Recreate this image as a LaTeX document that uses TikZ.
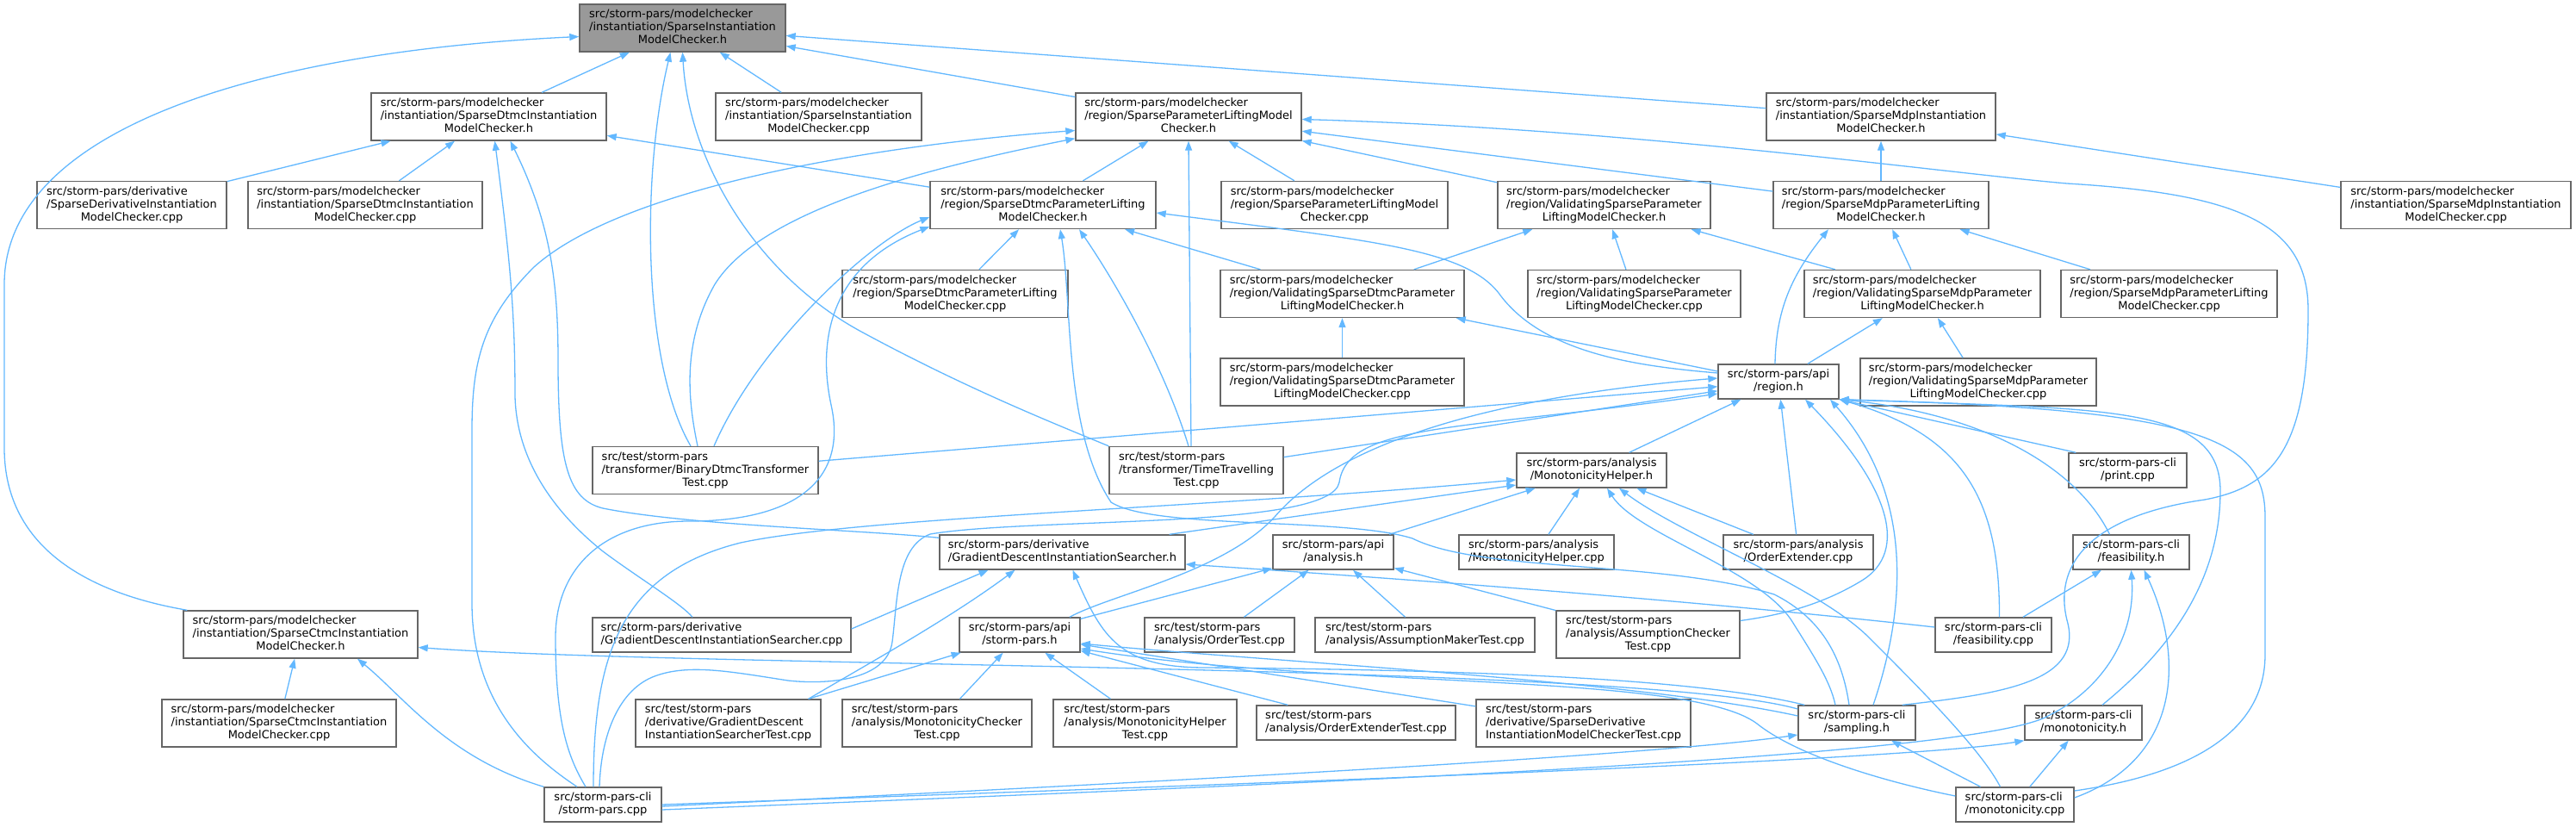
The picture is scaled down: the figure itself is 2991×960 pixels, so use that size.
\documentclass[tikz,border=0pt]{standalone}
\usepackage{fontspec}
\setmainfont{DejaVu Sans}
\usepackage{tikz}
\usetikzlibrary{arrows.meta}
\definecolor{EdgeBlue}{RGB}{99,184,255}
\definecolor{BoxGray}{RGB}{102,102,102}
\definecolor{RootGray}{RGB}{153,153,153}
\newcommand{\fthree}[3]{\begin{tabular}{@{}l@{}}#1\\#2\\\multicolumn{1}{@{}c@{}}{#3}\end{tabular}}
\newcommand{\ftwo}[2]{\begin{tabular}{@{}l@{}}#1\\\multicolumn{1}{@{}c@{}}{#2}\end{tabular}}
\tikzset{
  filebox/.style={draw=BoxGray,fill=white,line width=1.4pt,inner sep=0pt,
    font=\fontsize{13}{15}\selectfont},
  box3/.style={filebox,minimum height=55pt},
  box2/.style={filebox,minimum height=40pt},
  rootbox/.style={box3,fill=RootGray},
  dep/.style={draw=EdgeBlue,line width=1.3pt,{Triangle[length=11pt,width=8pt]}-}
}
\begin{document}
\begin{tikzpicture}[x=1pt,y=-1pt]
  \useasboundingbox (0,0) rectangle (2991,960);
  % row 1 and 2
  \node[rootbox,minimum width=239pt] (root) at (792.5,32.5) {\fthree{src/storm-pars/modelchecker}{/instantiation/SparseInstantiation}{ModelChecker.h}};
  \node[box3,minimum width=273pt] (dtmcInstH) at (567.5,135.5) {\fthree{src/storm-pars/modelchecker}{/instantiation/SparseDtmcInstantiation}{ModelChecker.h}};
  \node[box3,minimum width=239pt] (instCpp) at (950.5,135.5) {\fthree{src/storm-pars/modelchecker}{/instantiation/SparseInstantiation}{ModelChecker.cpp}};
  \node[box3,minimum width=262pt] (splmcH) at (1380,135.5) {\fthree{src/storm-pars/modelchecker}{/region/SparseParameterLiftingModel}{Checker.h}};
  \node[box3,minimum width=266pt] (mdpInstH) at (2184,135.5) {\fthree{src/storm-pars/modelchecker}{/instantiation/SparseMdpInstantiation}{ModelChecker.h}};
  % row 3
  \node[box3,minimum width=220pt] (derivCpp) at (153,238) {\fthree{src/storm-pars/derivative}{/SparseDerivativeInstantiation}{ModelChecker.cpp}};
  \node[box3,minimum width=272pt] (dtmcInstCpp) at (424,238) {\fthree{src/storm-pars/modelchecker}{/instantiation/SparseDtmcInstantiation}{ModelChecker.cpp}};
  \node[box3,minimum width=262pt] (dtmcPLH) at (1211,238) {\fthree{src/storm-pars/modelchecker}{/region/SparseDtmcParameterLifting}{ModelChecker.h}};
  \node[box3,minimum width=263pt] (splmcCpp) at (1549.5,238) {\fthree{src/storm-pars/modelchecker}{/region/SparseParameterLiftingModel}{Checker.cpp}};
  \node[box3,minimum width=247pt] (valSplH) at (1862.5,238) {\fthree{src/storm-pars/modelchecker}{/region/ValidatingSparseParameter}{LiftingModelChecker.h}};
  \node[box3,minimum width=250pt] (mdpPLH) at (2184,238) {\fthree{src/storm-pars/modelchecker}{/region/SparseMdpParameterLifting}{ModelChecker.h}};
  \node[box3,minimum width=267pt] (mdpInstCpp) at (2851.5,238) {\fthree{src/storm-pars/modelchecker}{/instantiation/SparseMdpInstantiation}{ModelChecker.cpp}};
  % row 4
  \node[box3,minimum width=262pt] (dtmcPLCpp) at (1109,341) {\fthree{src/storm-pars/modelchecker}{/region/SparseDtmcParameterLifting}{ModelChecker.cpp}};
  \node[box3,minimum width=283pt] (valDtmcH) at (1558.5,341) {\fthree{src/storm-pars/modelchecker}{/region/ValidatingSparseDtmcParameter}{LiftingModelChecker.h}};
  \node[box3,minimum width=247pt] (valSplCpp) at (1897.5,341) {\fthree{src/storm-pars/modelchecker}{/region/ValidatingSparseParameter}{LiftingModelChecker.cpp}};
  \node[box3,minimum width=274pt] (valMdpH) at (2232,341) {\fthree{src/storm-pars/modelchecker}{/region/ValidatingSparseMdpParameter}{LiftingModelChecker.h}};
  \node[box3,minimum width=251pt] (mdpPLCpp) at (2518.5,341) {\fthree{src/storm-pars/modelchecker}{/region/SparseMdpParameterLifting}{ModelChecker.cpp}};
  % row 5
  \node[box3,minimum width=283pt] (valDtmcCpp) at (1558.5,443.5) {\fthree{src/storm-pars/modelchecker}{/region/ValidatingSparseDtmcParameter}{LiftingModelChecker.cpp}};
  \node[box2,minimum width=140pt] (regionH) at (2065,443) {\ftwo{src/storm-pars/api}{/region.h}};
  \node[box3,minimum width=274pt] (valMdpCpp) at (2297,443.5) {\fthree{src/storm-pars/modelchecker}{/region/ValidatingSparseMdpParameter}{LiftingModelChecker.cpp}};
  % row 6
  \node[box3,minimum width=262pt] (binTest) at (819,546) {\fthree{src/test/storm-pars}{/transformer/BinaryDtmcTransformer}{Test.cpp}};
  \node[box3,minimum width=202pt] (timeTest) at (1389,546) {\fthree{src/test/storm-pars}{/transformer/TimeTravelling}{Test.cpp}};
  \node[box2,minimum width=174pt] (monoHelperH) at (1848,546) {\ftwo{src/storm-pars/analysis}{/MonotonicityHelper.h}};
  \node[box2,minimum width=137pt] (printCpp) at (2470.5,546) {\ftwo{src/storm-pars-cli}{/print.cpp}};
  % row 7
  \node[box2,minimum width=285pt] (gdSearcherH) at (1233.5,641) {\ftwo{src/storm-pars/derivative}{/GradientDescentInstantiationSearcher.h}};
  \node[box2,minimum width=140pt] (analysisH) at (1548,641) {\ftwo{src/storm-pars/api}{/analysis.h}};
  \node[box2,minimum width=180pt] (monoHelperCpp) at (1784,641) {\ftwo{src/storm-pars/analysis}{/MonotonicityHelper.cpp}};
  \node[box2,minimum width=174pt] (orderExtCpp) at (2088,641) {\ftwo{src/storm-pars/analysis}{/OrderExtender.cpp}};
  \node[box2,minimum width=135pt] (feasH) at (2474.5,641) {\ftwo{src/storm-pars-cli}{/feasibility.h}};
  % row 8
  \node[box3,minimum width=272pt] (ctmcInstH) at (349,736.5) {\fthree{src/storm-pars/modelchecker}{/instantiation/SparseCtmcInstantiation}{ModelChecker.h}};
  \node[box2,minimum width=300pt] (gdSearcherCpp) at (838,737) {\ftwo{src/storm-pars/derivative}{/GradientDescentInstantiationSearcher.cpp}};
  \node[box2,minimum width=140pt] (stormParsH) at (1184,737) {\ftwo{src/storm-pars/api}{/storm-pars.h}};
  \node[box2,minimum width=174pt] (orderTest) at (1416,737) {\ftwo{src/test/storm-pars}{/analysis/OrderTest.cpp}};
  \node[box2,minimum width=255pt] (assumMakerTest) at (1654.5,737) {\ftwo{src/test/storm-pars}{/analysis/AssumptionMakerTest.cpp}};
  \node[box3,minimum width=213pt] (assumCheckerTest) at (1913.5,736.5) {\fthree{src/test/storm-pars}{/analysis/AssumptionChecker}{Test.cpp}};
  \node[box2,minimum width=135pt] (feasCpp) at (2314.5,737) {\ftwo{src/storm-pars-cli}{/feasibility.cpp}};
  % row 9
  \node[box3,minimum width=272pt] (ctmcInstCpp) at (324,839.5) {\fthree{src/storm-pars/modelchecker}{/instantiation/SparseCtmcInstantiation}{ModelChecker.cpp}};
  \node[box3,minimum width=215pt] (gdTest) at (845.5,839.5) {\fthree{src/test/storm-pars}{/derivative/GradientDescent}{InstantiationSearcherTest.cpp}};
  \node[box3,minimum width=220pt] (monoCheckerTest) at (1088,839.5) {\fthree{src/test/storm-pars}{/analysis/MonotonicityChecker}{Test.cpp}};
  \node[box3,minimum width=213pt] (monoHelperTest) at (1329.5,839.5) {\fthree{src/test/storm-pars}{/analysis/MonotonicityHelper}{Test.cpp}};
  \node[box2,minimum width=231pt] (orderExtTest) at (1574.5,839) {\ftwo{src/test/storm-pars}{/analysis/OrderExtenderTest.cpp}};
  \node[box3,minimum width=249pt] (sparseDerivTest) at (1838.5,839.5) {\fthree{src/test/storm-pars}{/derivative/SparseDerivative}{InstantiationModelCheckerTest.cpp}};
  \node[box2,minimum width=136pt] (samplingH) at (2156,839) {\ftwo{src/storm-pars-cli}{/sampling.h}};
  \node[box2,minimum width=136pt] (monoH) at (2419,839) {\ftwo{src/storm-pars-cli}{/monotonicity.h}};
  % row 10
  \node[box2,minimum width=136pt] (stormParsCpp) at (700,934) {\ftwo{src/storm-pars-cli}{/storm-pars.cpp}};
  \node[box2,minimum width=137pt] (monoCpp) at (2339.5,934) {\ftwo{src/storm-pars-cli}{/monotonicity.cpp}};

  % short includes
  \draw[dep] (root) -- (dtmcInstH);
  \draw[dep] (root) -- (instCpp);
  \draw[dep] (root) -- (splmcH);
  \draw[dep] (root) -- (mdpInstH);
  \draw[dep] (dtmcInstH) -- (derivCpp);
  \draw[dep] (dtmcInstH) -- (dtmcInstCpp);
  \draw[dep] (dtmcInstH) -- (dtmcPLH);
  \draw[dep] (splmcH) -- (dtmcPLH);
  \draw[dep] (splmcH) -- (splmcCpp);
  \draw[dep] (splmcH.south) -- ([xshift=-6pt]timeTest.north);
  \draw[dep] (splmcH) -- (valSplH);
  \draw[dep] (splmcH) -- (mdpPLH);
  \draw[dep] (mdpInstH) -- (mdpPLH);
  \draw[dep] (mdpInstH) -- (mdpInstCpp);
  \draw[dep] (dtmcPLH) -- (dtmcPLCpp);
  \draw[dep] (dtmcPLH) -- (valDtmcH);
  \draw[dep] (valSplH) -- (valDtmcH);
  \draw[dep] (valSplH) -- (valSplCpp);
  \draw[dep] (valSplH) -- (valMdpH);
  \draw[dep] (mdpPLH) -- (valMdpH);
  \draw[dep] (mdpPLH) -- (mdpPLCpp);
  \draw[dep] (valDtmcH) -- (valDtmcCpp);
  \draw[dep] ([xshift=-10pt]valDtmcH.south east) -- ([yshift=12pt]regionH.west);
  \draw[dep] (valMdpH) -- (valMdpCpp);
  \draw[dep] (valMdpH) -- (regionH);
  \draw[dep] (regionH) -- (binTest);
  \draw[dep] (regionH) -- (timeTest);
  \draw[dep] (regionH) -- (monoHelperH);
  \draw[dep] (regionH) -- (orderExtCpp);
  \draw[dep] (regionH.south east) -- ([xshift=9pt]printCpp.north west);
  \draw[dep] (monoHelperH) -- (analysisH);
  \draw[dep] (monoHelperH) -- (monoHelperCpp);
  \draw[dep] (monoHelperH) -- (orderExtCpp);
  \draw[dep] ([yshift=-17pt]monoHelperH.west) -- ([xshift=-19pt]gdSearcherH.north east);
  \draw[dep] ([xshift=-86pt]gdSearcherH.south) -- ([yshift=7pt]gdSearcherCpp.east);
  \draw[dep] (analysisH) -- (stormParsH);
  \draw[dep] (analysisH) -- (orderTest);
  \draw[dep] (analysisH) -- (assumMakerTest);
  \draw[dep] (analysisH) -- (assumCheckerTest);
  \draw[dep] (stormParsH) -- (gdTest);
  \draw[dep] (stormParsH) -- (monoCheckerTest);
  \draw[dep] (stormParsH) -- (monoHelperTest);
  \draw[dep] (stormParsH) -- (orderExtTest);
  \draw[dep] (stormParsH) -- (sparseDerivTest);
  \draw[dep] (ctmcInstH) -- (ctmcInstCpp);
  \draw[dep] (monoH) -- (monoCpp);
  \draw[dep] (feasH) -- (feasCpp);
  \draw[dep] (samplingH) -- (monoCpp);

  % long includes
  \draw[dep] ([yshift=-10pt]root.west) .. controls (300,60) and (5,150) .. (5,330) -- (5,520) .. controls (5,640) and (110,690) .. ([xshift=5pt]ctmcInstH.north west);
  \draw[dep] ([xshift=-14pt]root.south) .. controls (745,200) and (745,420) .. ([xshift=-17pt]binTest.north);
  \draw[dep] (root.south) .. controls (800,190) and (880,320) .. (1000,385) .. controls (1120,450) and (1220,490) .. (timeTest.north west);
  \draw[dep] ([xshift=7pt]dtmcInstH.south) .. controls (592,300) and (598,360) .. (598,460) .. controls (600,540) and (650,600) .. (700,640) .. controls (740,670) and (790,700) .. ([xshift=-34pt]gdSearcherCpp.north);
  \draw[dep] ([xshift=25pt]dtmcInstH.south) .. controls (640,260) and (648,330) .. (648,420) .. controls (648,540) and (660,580) .. (700,590) .. controls (800,610) and (1000,615) .. ([yshift=-4pt]gdSearcherH.north west);
  \draw[dep] ([yshift=-3pt]splmcH.east) .. controls (1900,150) and (2250,200) .. (2400,213) .. controls (2600,225) and (2680,260) .. (2680,360) .. controls (2680,520) and (2640,565) .. (2560,580) .. controls (2420,600) and (2385,660) .. (2400,720) .. controls (2420,790) and (2330,805) .. ([xshift=-16pt]samplingH.north east);
  \draw[dep] ([yshift=3pt]splmcH.south west) .. controls (1050,200) and (880,250) .. (830,330) .. controls (790,400) and (800,470) .. ([xshift=-9pt]binTest.north);
  \draw[dep] ([yshift=-16pt]splmcH.west) .. controls (1000,170) and (720,220) .. (620,310) .. controls (560,370) and (548,420) .. (548,500) -- (548,700) .. controls (548,820) and (620,880) .. ([xshift=-30pt]stormParsCpp.north);
  \draw[dep] ([yshift=-9pt]dtmcPLH.east) .. controls (1600,280) and (1700,290) .. (1740,340) .. controls (1790,410) and (1900,425) .. ([yshift=10pt]regionH.west);
  \draw[dep] ([yshift=-14pt]dtmcPLH.west) .. controls (1010,280) and (880,400) .. ([xshift=10pt]binTest.north);
  \draw[dep] ([yshift=-25pt]dtmcPLH.west) .. controls (960,310) and (950,400) .. (965,470) .. controls (985,560) and (920,605) .. (800,605) .. controls (700,605) and (645,660) .. (645,740) .. controls (645,840) and (660,880) .. ([xshift=-20pt]stormParsCpp.north);
  \draw[dep] ([xshift=42pt]dtmcPLH.south) .. controls (1290,320) and (1350,420) .. ([xshift=-9pt]timeTest.north);
  \draw[dep] ([xshift=20pt]dtmcPLH.south) .. controls (1245,350) and (1235,500) .. (1290,583) .. controls (1340,615) and (1560,600) .. (1640,625) .. controls (1720,665) and (1930,650) .. (2060,690) .. controls (2120,720) and (2140,770) .. ([xshift=-9pt]samplingH.north);
  \draw[dep] ([xshift=-61pt]mdpPLH.south) .. controls (2080,320) and (2062,360) .. ([xshift=-4pt]regionH.north);
  \draw[dep] ([yshift=4pt]regionH.west) .. controls (1800,455) and (1570,495) .. (1480,600) .. controls (1420,665) and (1290,690) .. ([xshift=58pt]stormParsH.north);
  \draw[dep] ([yshift=-14pt]regionH.west) .. controls (1700,500) and (1565,490) .. (1555,560) .. controls (1545,615) and (1200,600) .. (1080,620) .. controls (1040,635) and (1042,700) .. (1036,745) .. controls (1030,790) and (960,795) .. (915,790) .. controls (850,780) and (800,770) .. (760,785) .. controls (720,800) and (698,850) .. ([xshift=-4pt]stormParsCpp.north);
  \draw[dep] ([xshift=31pt]regionH.south) .. controls (2190,560) and (2220,640) .. (2160,675) .. controls (2110,705) and (2060,715) .. ([yshift=16pt]assumCheckerTest.east);
  \draw[dep] ([xshift=60pt]regionH.south) .. controls (2210,560) and (2222,680) .. ([xshift=19pt]samplingH.north);
  \draw[dep] (regionH.south east) .. controls (2280,505) and (2322,580) .. ([xshift=7pt]feasCpp.north);
  \draw[dep] (regionH.south east) .. controls (2300,480) and (2410,540) .. ([xshift=-25pt]feasH.north);
  \draw[dep] (regionH.south east) .. controls (2450,475) and (2578,470) .. (2578,570) .. controls (2578,690) and (2500,770) .. ([xshift=22pt]monoH.north);
  \draw[dep] (regionH.south east) .. controls (2560,475) and (2630,510) .. (2630,600) -- (2630,760) .. controls (2630,870) and (2500,905) .. ([yshift=16pt]monoCpp.east);
  \draw[dep] ([xshift=18pt]monoHelperH.south) .. controls (1900,620) and (2040,660) .. (2080,720) .. controls (2105,760) and (2125,790) .. ([xshift=-25pt]samplingH.north);
  \draw[dep] ([xshift=32pt]monoHelperH.south) .. controls (1950,620) and (2110,680) .. (2170,740) .. controls (2230,800) and (2300,870) .. ([xshift=-17pt]monoCpp.north);
  \draw[dep] ([yshift=-11pt]monoHelperH.west) .. controls (1400,590) and (1000,600) .. (860,630) .. controls (720,665) and (689,760) .. ([xshift=-11pt]stormParsCpp.north);
  \draw[dep] ([xshift=-55pt]gdSearcherH.south) .. controls (1100,720) and (1000,775) .. ([xshift=-15pt]gdTest.north east);
  \draw[dep] ([yshift=-14pt]gdSearcherH.east) .. controls (1600,670) and (1950,695) .. ([yshift=9pt]feasCpp.west);
  \draw[dep] ([xshift=12pt]gdSearcherH.south) .. controls (1280,740) and (1300,775) .. (1400,775) .. controls (1750,778) and (1980,790) .. ([xshift=8pt]samplingH.north west);
  \draw[dep] ([yshift=-10pt]stormParsH.east) .. controls (1500,770) and (1900,790) .. ([yshift=8pt]samplingH.west);
  \draw[dep] ([yshift=-16pt]stormParsH.east) .. controls (1550,800) and (1960,780) .. (2040,840) .. controls (2090,880) and (2200,910) .. ([yshift=10pt]monoCpp.west);
  \draw[dep] ([xshift=66pt]ctmcInstH.south) .. controls (470,810) and (520,880) .. (stormParsCpp.north west);
  \draw[dep] ([yshift=-15pt]ctmcInstH.east) .. controls (800,775) and (1900,770) .. ([yshift=16pt]samplingH.west);
  \draw[dep] ([yshift=-14pt]samplingH.west) .. controls (1900,880) and (1200,915) .. ([yshift=-2pt]stormParsCpp.east);
  \draw[dep] (monoH.south west) .. controls (2200,885) and (1300,915) .. (stormParsCpp.east);
  \draw[dep] (feasH.south) .. controls (2480,740) and (2440,800) .. (2380,830) .. controls (2300,880) and (1500,910) .. ([yshift=-6pt]stormParsCpp.east);
  \draw[dep] ([xshift=15pt]feasH.south) .. controls (2535,760) and (2535,880) .. ([yshift=8pt]monoCpp.east);
\end{tikzpicture}
\end{document}
